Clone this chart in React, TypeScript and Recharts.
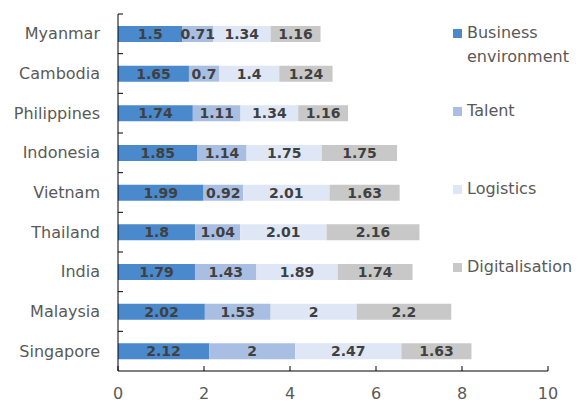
import { BarChart, Bar, XAxis, YAxis, Legend, LabelList } from "recharts"

const countries = ["Myanmar", "Cambodia", "Philippines", "Indonesia", "Vietnam", "Thailand", "India", "Malaysia", "Singapore"]
const business = [1.5, 1.65, 1.74, 1.85, 1.99, 1.8, 1.79, 2.02, 2.12]
const talent = [0.71, 0.7, 1.11, 1.14, 0.92, 1.04, 1.43, 1.53, 2]
const logistics = [1.34, 1.4, 1.34, 1.75, 2.01, 2.01, 1.89, 2, 2.47]
const digital = [1.16, 1.24, 1.16, 1.75, 1.63, 2.16, 1.74, 2.2, 1.63]
const xTicks = [0, 2, 4, 6, 8, 10]

const seriesNames = ["Business environment", "Talent", "Logistics", "Digitalisation"]
const seriesKeys = ["business", "talent", "logistics", "digital"]
const seriesColors = ["#4a89cb", "#a8bfe3", "#dfe7f6", "#c8c8c8"]

const data = countries.map((c, i) => ({
  country: c,
  business: business[i],
  talent: talent[i],
  logistics: logistics[i],
  digital: digital[i],
}))

const FONT = "DejaVu Sans"
const TOP = 14
const PLOT_H = 357
const BAND = PLOT_H / countries.length

function YTick(props: any) {
  const { x, y, payload } = props
  const axisX = x + 18
  return (
    <g>
      <text x={x} y={y} dy="0.35em" textAnchor="end" fontSize={16} fontFamily={FONT} fill="#595959">
        {payload.value}
      </text>
      <line x1={axisX} x2={axisX + 5} y1={y - BAND / 2} y2={y - BAND / 2} stroke="#000" strokeWidth={1} />
    </g>
  )
}

function XTick(props: any) {
  const { x, y, payload } = props
  return (
    <g>
      <line x1={x} x2={x} y1={y - 5} y2={y} stroke="#000" strokeWidth={1} />
      <text x={x} y={y + 28} textAnchor="middle" fontSize={16} fontFamily={FONT} fill="#595959">
        {payload.value}
      </text>
    </g>
  )
}

function LegendBox() {
  return (
    <div style={{ fontFamily: FONT, fontSize: 16, color: "#595959" }}>
      {seriesNames.map((name, i) => (
        <div key={name} style={{ display: "flex", height: 78, alignItems: "flex-start" }}>
          <div style={{ width: 9, height: 9, background: seriesColors[i], marginTop: 8, marginRight: 5, flexShrink: 0 }} />
          <div style={{ lineHeight: "24px", width: 110 }}>{name}</div>
        </div>
      ))}
    </div>
  )
}

export default function App() {
  return (
    <div style={{ position: "absolute", left: 0, top: 0, background: "#fff" }}>
      <BarChart
        width={581}
        height={408}
        data={data}
        layout="vertical"
        margin={{ top: TOP, right: 33, bottom: 0, left: 0 }}
        barSize={16}
      >
        <XAxis
          type="number"
          domain={[0, 10]}
          ticks={xTicks}
          height={37}
          tickLine={false}
          tickSize={0}
          tickMargin={0}
          tick={<XTick />}
          axisLine={{ stroke: "#000" }}
          interval={0}
        />
        <YAxis
          type="category"
          dataKey="country"
          width={118}
          tickLine={false}
          tickSize={0}
          tickMargin={18}
          tick={<YTick />}
          axisLine={{ stroke: "#000" }}
          interval={0}
        />
        <Legend
          layout="vertical"
          align="center"
          verticalAlign="middle"
          wrapperStyle={{ left: 453, top: 21, width: 128 }}
          content={<LegendBox />}
        />
        {seriesKeys.map((k, i) => (
          <Bar key={k} dataKey={k} name={seriesNames[i]} stackId="a" fill={seriesColors[i]} isAnimationActive={false}>
            <LabelList
              dataKey={k}
              position="center"
              fill="#404040"
              fontSize={14}
              fontWeight="bold"
              fontFamily={FONT}
            />
          </Bar>
        ))}
      </BarChart>
    </div>
  )
}
